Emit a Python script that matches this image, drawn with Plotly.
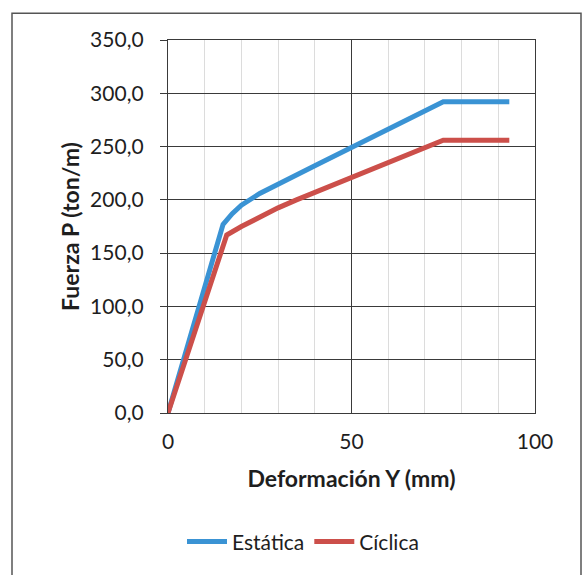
import plotly.graph_objects as go

# Load-deformation curves (mm vs ton/m)
def_estatica = [0, 15, 17.5, 20, 25, 30, 35, 40, 75, 93]
p_estatica = [0, 177, 187, 195, 206, 215, 224, 232, 292, 292]

def_ciclica = [0, 16, 20, 25, 30, 35, 40, 75, 93]
p_ciclica = [0, 167, 175, 184, 192.5, 200, 207, 256, 256]

series_names = ["Estática", "Cíclica"]
series_colors = ["#3a93d4", "#cc4f4a"]

W, H = 583, 575
L, R, T, B = 168, 48, 40, 159
pw, ph = W - L - R, H - T - B

font_family = "Lato, 'Open Sans', sans-serif"
text_color = "#1e1e1e"
grid_dark = "#3a3a3a"

fig = go.Figure()
for xs, ys, name, color in [
    (def_estatica, p_estatica, series_names[0], series_colors[0]),
    (def_ciclica, p_ciclica, series_names[1], series_colors[1]),
]:
    fig.add_trace(go.Scatter(
        x=xs, y=ys, name=name, mode="lines",
        line=dict(color=color, width=5),
    ))

# outer chart frame
def px_to_paper_x(px):
    return (px - L) / pw

def px_to_paper_y(py):
    return (H - B - py) / ph

fig.add_shape(
    type="rect", xref="paper", yref="paper",
    x0=px_to_paper_x(12), x1=px_to_paper_x(581),
    y0=px_to_paper_y(590), y1=px_to_paper_y(13),
    line=dict(color="#555555", width=1.5), layer="below",
)

fig.update_layout(
    width=W, height=H,
    margin=dict(l=L, r=R, t=T, b=B),
    paper_bgcolor="white", plot_bgcolor="white",
    separators=",.",
    font=dict(family=font_family, color=text_color, size=21),
    showlegend=True,
    legend=dict(
        orientation="h", x=px_to_paper_x(303), y=px_to_paper_y(546),
        xanchor="center", yanchor="middle",
        font=dict(size=21), itemwidth=40,
        bgcolor="rgba(0,0,0,0)",
    ),
)

fig.update_xaxes(
    range=[0, 100], dtick=50, tick0=0,
    showgrid=True, gridcolor=grid_dark, gridwidth=1.4,
    minor=dict(dtick=10, showgrid=True, gridcolor="#dcdcdc", gridwidth=1),
    showline=True, linecolor=grid_dark, linewidth=1.4, mirror=True,
    zeroline=False, ticks="", ticklabelstandoff=10,
    tickfont=dict(size=21),
    title=dict(text="<b>Deformación Y (mm)</b>", font=dict(size=23), standoff=18),
)
fig.update_yaxes(
    range=[0, 350], dtick=50, tick0=0, tickformat=".1f",
    showgrid=True, gridcolor=grid_dark, gridwidth=1.4,
    showline=True, linecolor=grid_dark, linewidth=1.4, mirror=True,
    zeroline=False, ticks="outside", ticklen=7, tickcolor=grid_dark,
    ticklabelstandoff=12,
    tickfont=dict(size=21),
    title=dict(text="<b>Fuerza P (ton/m)</b>", font=dict(size=23), standoff=4),
)

fig.write_html("out.html")
